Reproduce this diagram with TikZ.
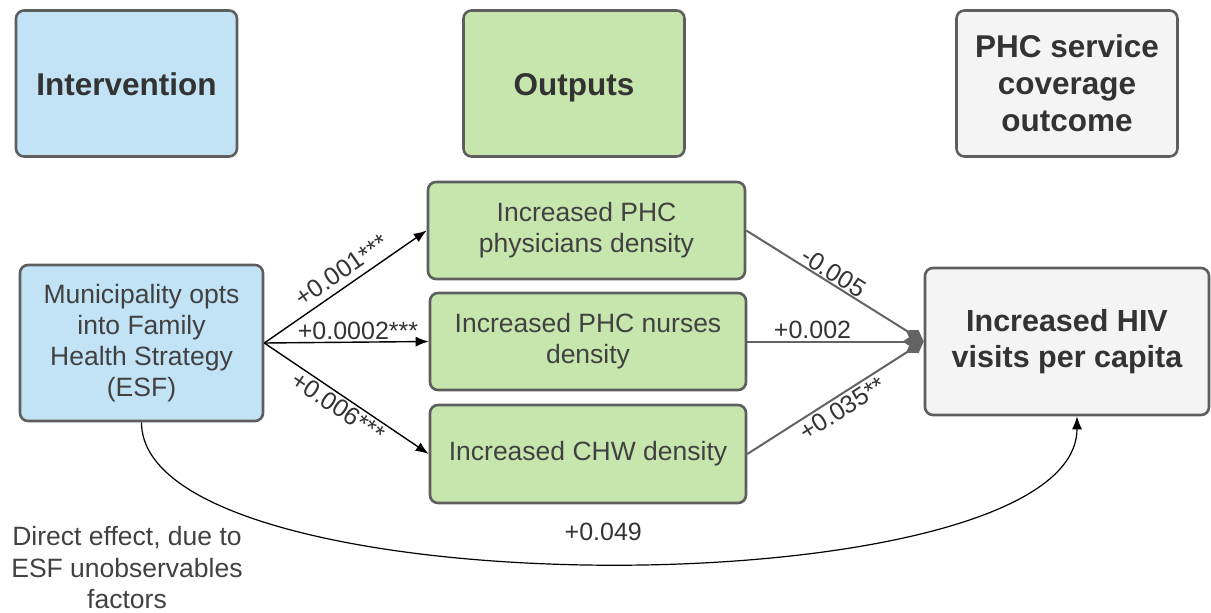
\documentclass[tikz,border=0pt]{standalone}
\usepackage{fontspec}
\setmainfont{Liberation Sans}
\usetikzlibrary{arrows.meta}
\definecolor{boxline}{HTML}{5E5E5E}
\definecolor{bluefill}{HTML}{C1E3F5}
\definecolor{greenfill}{HTML}{C7E6AD}
\definecolor{grayfill}{HTML}{F4F4F4}
\definecolor{headtxt}{HTML}{333333}
\definecolor{txt}{HTML}{414141}
\definecolor{linkgray}{HTML}{636363}
\begin{document}
\begin{tikzpicture}[x=1pt,y=-1pt,
  box/.style={draw=boxline, line width=2.6pt, rounded corners=8pt, align=center, text=txt, inner sep=0pt},
  head/.style={box, text=headtxt, font=\fontsize{31.5}{37}\selectfont\bfseries, minimum width=221pt, minimum height=146pt},
  onehead/.style={head, text height=23pt, text depth=0pt},
  body/.style={font=\fontsize{26.5}{31}\selectfont},
  lab/.style={font=\fontsize{25}{29}\selectfont, text=headtxt, inner sep=3pt},
  blk/.style={-{Latex[length=13pt,width=10pt]}, line width=1.4pt, black},
  gry/.style={-{Diamond[length=21pt,width=14pt]}, line width=2pt, linkgray},
]
\useasboundingbox (0,0) rectangle (1211,613);

% column headers
\node[onehead, fill=bluefill]  (hInt) at (126.5,83.5) {Intervention};
\node[onehead, fill=greenfill] (hOut) at (574,83.5) {Outputs};
\node[head, fill=grayfill]  (hCov) at (1067,83.5) {PHC service\\coverage\\outcome};

% intervention, outputs and outcome
\node[box, body, fill=bluefill, minimum width=243pt, minimum height=156pt] (mun) at (141.5,343)
  {Municipality opts\\into Family\\Health Strategy\\(ESF)};
\node[box, body, fill=greenfill, minimum width=317pt, minimum height=97pt] (phy) at (586.5,230.5)
  {Increased PHC\\physicians density};
\node[box, body, fill=greenfill, minimum width=316pt, minimum height=97pt] (nur) at (588,341.5)
  {Increased PHC nurses\\density};
\node[box, body, fill=greenfill, minimum width=316pt, minimum height=98pt] (chw) at (588,454)
  {Increased CHW density};
\node[box, text=headtxt, font=\fontsize{30.5}{36}\selectfont\bfseries, fill=grayfill,
      minimum width=284pt, minimum height=147pt] (hiv) at (1067,341.5)
  {Increased HIV\\visits per capita};

% effects of the intervention on the outputs
\draw[blk] (mun.east) -- (phy.west)
  node[lab, pos=0.53, sloped, above, inner sep=6pt] {+0.001***};
\draw[blk] (mun.east) -- (nur.west)
  node[lab, pos=0.57, above, inner sep=2pt] {+0.0002***};
\draw[blk] (mun.east) -- (chw.west)
  node[lab, pos=0.49, sloped, below, inner sep=2pt] {+0.006***};

% effects of the outputs on the outcome
\draw[gry] (phy.east) -- (hiv.west)
  node[lab, pos=0.46, sloped, above, inner sep=1pt] {-0.005};
\draw[gry] (nur.east) -- (hiv.west)
  node[lab, pos=0.37, above, inner sep=2pt] {+0.002};
\draw[gry] (chw.east) -- (hiv.west)
  node[lab, pos=0.5, sloped, below, inner sep=3pt] {+0.035**};

% direct effect
\draw[blk, line width=1.2pt] (mun.south) .. controls +(0,190) and +(0,195) .. ([xshift=10pt]hiv.south)
  node[lab, pos=0.5, above=19pt, inner sep=3pt, xshift=-6pt] {+0.049};
\node[lab, align=center, font=\fontsize{26.5}{31.5}\selectfont, text=txt] (note) at (127,568)
  {Direct effect, due to\\ESF unobservables\\factors};
\end{tikzpicture}
\end{document}
